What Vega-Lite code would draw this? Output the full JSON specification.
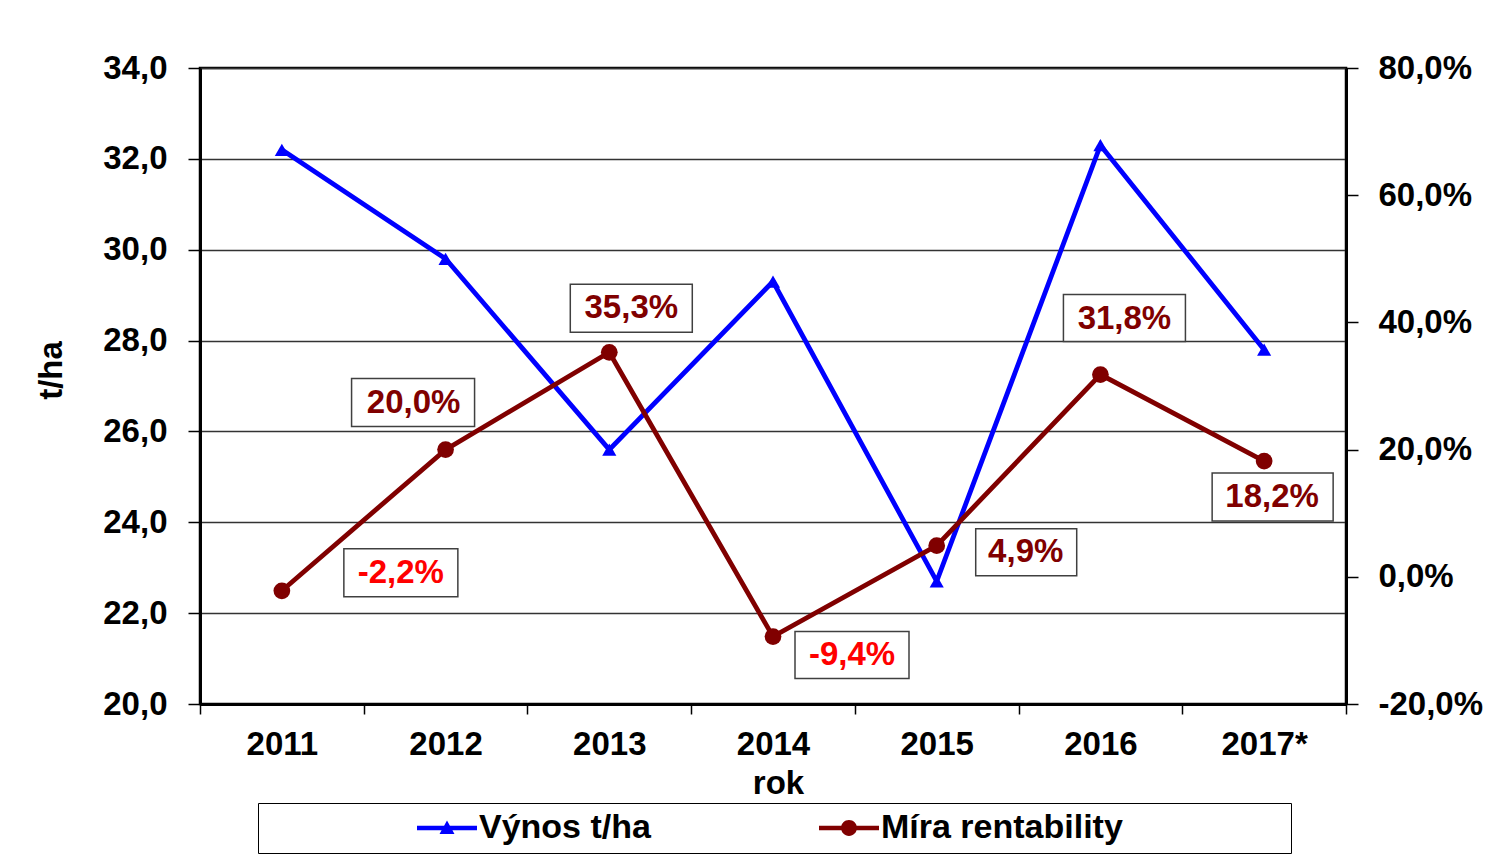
{
  "$schema": "https://vega.github.io/schema/vega-lite/v6.json",
  "width": 1146,
  "height": 636,
  "autosize": {"type": "none"},
  "padding": {"left": 200, "top": 68, "right": 146, "bottom": 161},
  "background": "white",
  "config": {
    "locale": {"number": {"decimal": ",", "thousands": " ", "grouping": [3], "currency": ["", ""], "minus": "-"}},
    "view": {"stroke": "#000", "strokeWidth": 2.5},
    "font": "Liberation Sans",
    "axis": {
      "labelFont": "Liberation Sans", "labelFontWeight": "bold", "labelFontSize": 33, "labelColor": "#000",
      "titleFont": "Liberation Sans", "titleFontWeight": "bold", "titleFontSize": 33, "titleColor": "#000",
      "domainColor": "#000", "domainWidth": 3, "tickColor": "#000", "tickWidth": 1.5
    }
  },
  "data": {"values": [
    {"rok": "2011", "vynos": 32.2, "rent": -0.022},
    {"rok": "2012", "vynos": 29.8, "rent": 0.2},
    {"rok": "2013", "vynos": 25.6, "rent": 0.353},
    {"rok": "2014", "vynos": 29.3, "rent": -0.094},
    {"rok": "2015", "vynos": 22.7, "rent": 0.049},
    {"rok": "2016", "vynos": 32.3, "rent": 0.318},
    {"rok": "2017*", "vynos": 27.8, "rent": 0.182}
  ]},
  "encoding": {
    "x": {
      "field": "rok", "type": "ordinal", "sort": null,
      "scale": {"paddingInner": 0, "paddingOuter": 0},
      "axis": {"title": "rok", "labelAngle": 0, "tickBand": "extent", "tickSize": 10, "labelPadding": 14, "titlePadding": 6, "titleX": 578, "grid": false}
    }
  },
  "layer": [
    {
      "encoding": {
        "y": {
          "field": "vynos", "type": "quantitative",
          "scale": {"domain": [20, 34], "nice": false, "zero": false},
          "axis": {"orient": "left", "title": "t/ha", "titleY": 302, "values": [20, 22, 24, 26, 28, 30, 32, 34], "format": ".1f", "tickSize": 12, "labelPadding": 21, "titlePadding": 34, "grid": true, "gridColor": "#333", "gridWidth": 1.5}
        }
      },
      "layer": [
        {"mark": {"type": "line", "color": "#0000FF", "strokeWidth": 4.8}, "encoding": {}},
        {"mark": {"type": "point", "shape": "triangle-up", "size": 200, "filled": true, "color": "#0000FF", "opacity": 1}, "encoding": {}},
        {
          "mark": {"type": "point", "filled": true, "clip": true, "opacity": 1},
          "encoding": {
            "y": {"datum": 0},
            "color": {
              "datum": "Výnos t/ha",
              "scale": {"domain": ["Výnos t/ha", "Míra rentability"], "range": ["#0000FF", "#800000"]},
              "legend": {"orient": "none", "legendX": 58, "legendY": 735, "direction": "horizontal", "title": null, "padding": 8, "strokeColor": "#000", "fillColor": "#fff", "symbolSize": 900, "symbolOffset": 164, "labelOffset": 15, "symbolOpacity": 1, "symbolStrokeWidth": 0, "labelFont": "Liberation Sans", "labelFontWeight": "bold", "labelFontSize": 34, "labelColor": "#000", "labelLimit": 0, "columnPadding": 17}
            },
            "shape": {
              "datum": "Výnos t/ha",
              "scale": {"domain": ["Výnos t/ha", "Míra rentability"], "range": [
                "M-2,-0.15H2V0.15H-2ZM-0.5,0.4L0,-0.5L0.5,0.4Z",
                "M-2,-0.15H2V0.15H-2ZM-0.53,0A0.53,0.53 0 1,1 0.53,0A0.53,0.53 0 1,1 -0.53,0ZM28.9,0"
              ]},
              "legend": {"orient": "none", "legendX": 58, "legendY": 735, "direction": "horizontal", "title": null, "padding": 8, "strokeColor": "#000", "fillColor": "#fff", "symbolSize": 900, "symbolOffset": 164, "labelOffset": 15, "symbolOpacity": 1, "symbolStrokeWidth": 0, "labelFont": "Liberation Sans", "labelFontWeight": "bold", "labelFontSize": 34, "labelColor": "#000", "labelLimit": 0, "columnPadding": 17}
            }
          }
        }
      ]
    },
    {
      "encoding": {
        "y": {
          "field": "rent", "type": "quantitative",
          "scale": {"domain": [-0.2, 0.8], "nice": false, "zero": false},
          "axis": {"orient": "right", "title": null, "values": [-0.2, 0, 0.2, 0.4, 0.6, 0.8], "format": ".1%", "tickSize": 12, "labelPadding": 20, "grid": false}
        }
      },
      "layer": [
        {"mark": {"type": "line", "color": "#800000", "strokeWidth": 4.8}, "encoding": {}},
        {"mark": {"type": "point", "shape": "circle", "size": 280, "filled": true, "color": "#800000", "opacity": 1}, "encoding": {}},
        {"transform": [{"filter": {"field": "rok", "equal": "2011"}}], "mark": {"type": "point", "shape": "M0.62,-0.42H1.76V0.06H0.62Z", "size": 40000, "filled": true, "fill": "#fff", "stroke": "#404040", "strokeWidth": 1.5, "opacity": 1}, "encoding": {}},
        {"transform": [{"filter": {"field": "rok", "equal": "2012"}}], "mark": {"type": "point", "shape": "M-0.94,-0.71H0.29V-0.23H-0.94Z", "size": 40000, "filled": true, "fill": "#fff", "stroke": "#404040", "strokeWidth": 1.5, "opacity": 1}, "encoding": {}},
        {"transform": [{"filter": {"field": "rok", "equal": "2013"}}], "mark": {"type": "point", "shape": "M-0.39,-0.68H0.83V-0.20H-0.39Z", "size": 40000, "filled": true, "fill": "#fff", "stroke": "#404040", "strokeWidth": 1.5, "opacity": 1}, "encoding": {}},
        {"transform": [{"filter": {"field": "rok", "equal": "2014"}}], "mark": {"type": "point", "shape": "M0.22,-0.05H1.36V0.42H0.22Z", "size": 40000, "filled": true, "fill": "#fff", "stroke": "#404040", "strokeWidth": 1.5, "opacity": 1}, "encoding": {}},
        {"transform": [{"filter": {"field": "rok", "equal": "2015"}}], "mark": {"type": "point", "shape": "M0.39,-0.17H1.40V0.30H0.39Z", "size": 40000, "filled": true, "fill": "#fff", "stroke": "#404040", "strokeWidth": 1.5, "opacity": 1}, "encoding": {}},
        {"transform": [{"filter": {"field": "rok", "equal": "2016"}}], "mark": {"type": "point", "shape": "M-0.37,-0.80H0.85V-0.33H-0.37Z", "size": 40000, "filled": true, "fill": "#fff", "stroke": "#404040", "strokeWidth": 1.5, "opacity": 1}, "encoding": {}},
        {"transform": [{"filter": {"field": "rok", "equal": "2017*"}}], "mark": {"type": "point", "shape": "M-0.52,0.12H0.69V0.60H-0.52Z", "size": 40000, "filled": true, "fill": "#fff", "stroke": "#404040", "strokeWidth": 1.5, "opacity": 1}, "encoding": {}},
        {"transform": [{"filter": {"field": "rok", "equal": "2011"}}], "mark": {"type": "text", "dx": 119, "dy": -18, "align": "center", "baseline": "middle", "font": "Liberation Sans", "fontWeight": "bold", "fontSize": 33, "color": "#FF0000"}, "encoding": {"text": {"field": "rent", "type": "quantitative", "format": ".1%"}}},
        {"transform": [{"filter": {"field": "rok", "equal": "2012"}}], "mark": {"type": "text", "dx": -32, "dy": -47, "align": "center", "baseline": "middle", "font": "Liberation Sans", "fontWeight": "bold", "fontSize": 33, "color": "#800000"}, "encoding": {"text": {"field": "rent", "type": "quantitative", "format": ".1%"}}},
        {"transform": [{"filter": {"field": "rok", "equal": "2013"}}], "mark": {"type": "text", "dx": 22, "dy": -44, "align": "center", "baseline": "middle", "font": "Liberation Sans", "fontWeight": "bold", "fontSize": 33, "color": "#800000"}, "encoding": {"text": {"field": "rent", "type": "quantitative", "format": ".1%"}}},
        {"transform": [{"filter": {"field": "rok", "equal": "2014"}}], "mark": {"type": "text", "dx": 79, "dy": 18, "align": "center", "baseline": "middle", "font": "Liberation Sans", "fontWeight": "bold", "fontSize": 33, "color": "#FF0000"}, "encoding": {"text": {"field": "rent", "type": "quantitative", "format": ".1%"}}},
        {"transform": [{"filter": {"field": "rok", "equal": "2015"}}], "mark": {"type": "text", "dx": 89, "dy": 6, "align": "center", "baseline": "middle", "font": "Liberation Sans", "fontWeight": "bold", "fontSize": 33, "color": "#800000"}, "encoding": {"text": {"field": "rent", "type": "quantitative", "format": ".1%"}}},
        {"transform": [{"filter": {"field": "rok", "equal": "2016"}}], "mark": {"type": "text", "dx": 24, "dy": -56, "align": "center", "baseline": "middle", "font": "Liberation Sans", "fontWeight": "bold", "fontSize": 33, "color": "#800000"}, "encoding": {"text": {"field": "rent", "type": "quantitative", "format": ".1%"}}},
        {"transform": [{"filter": {"field": "rok", "equal": "2017*"}}], "mark": {"type": "text", "dx": 8, "dy": 36, "align": "center", "baseline": "middle", "font": "Liberation Sans", "fontWeight": "bold", "fontSize": 33, "color": "#800000"}, "encoding": {"text": {"field": "rent", "type": "quantitative", "format": ".1%"}}}
      ]
    }
  ],
  "resolve": {"scale": {"y": "independent"}}
}
